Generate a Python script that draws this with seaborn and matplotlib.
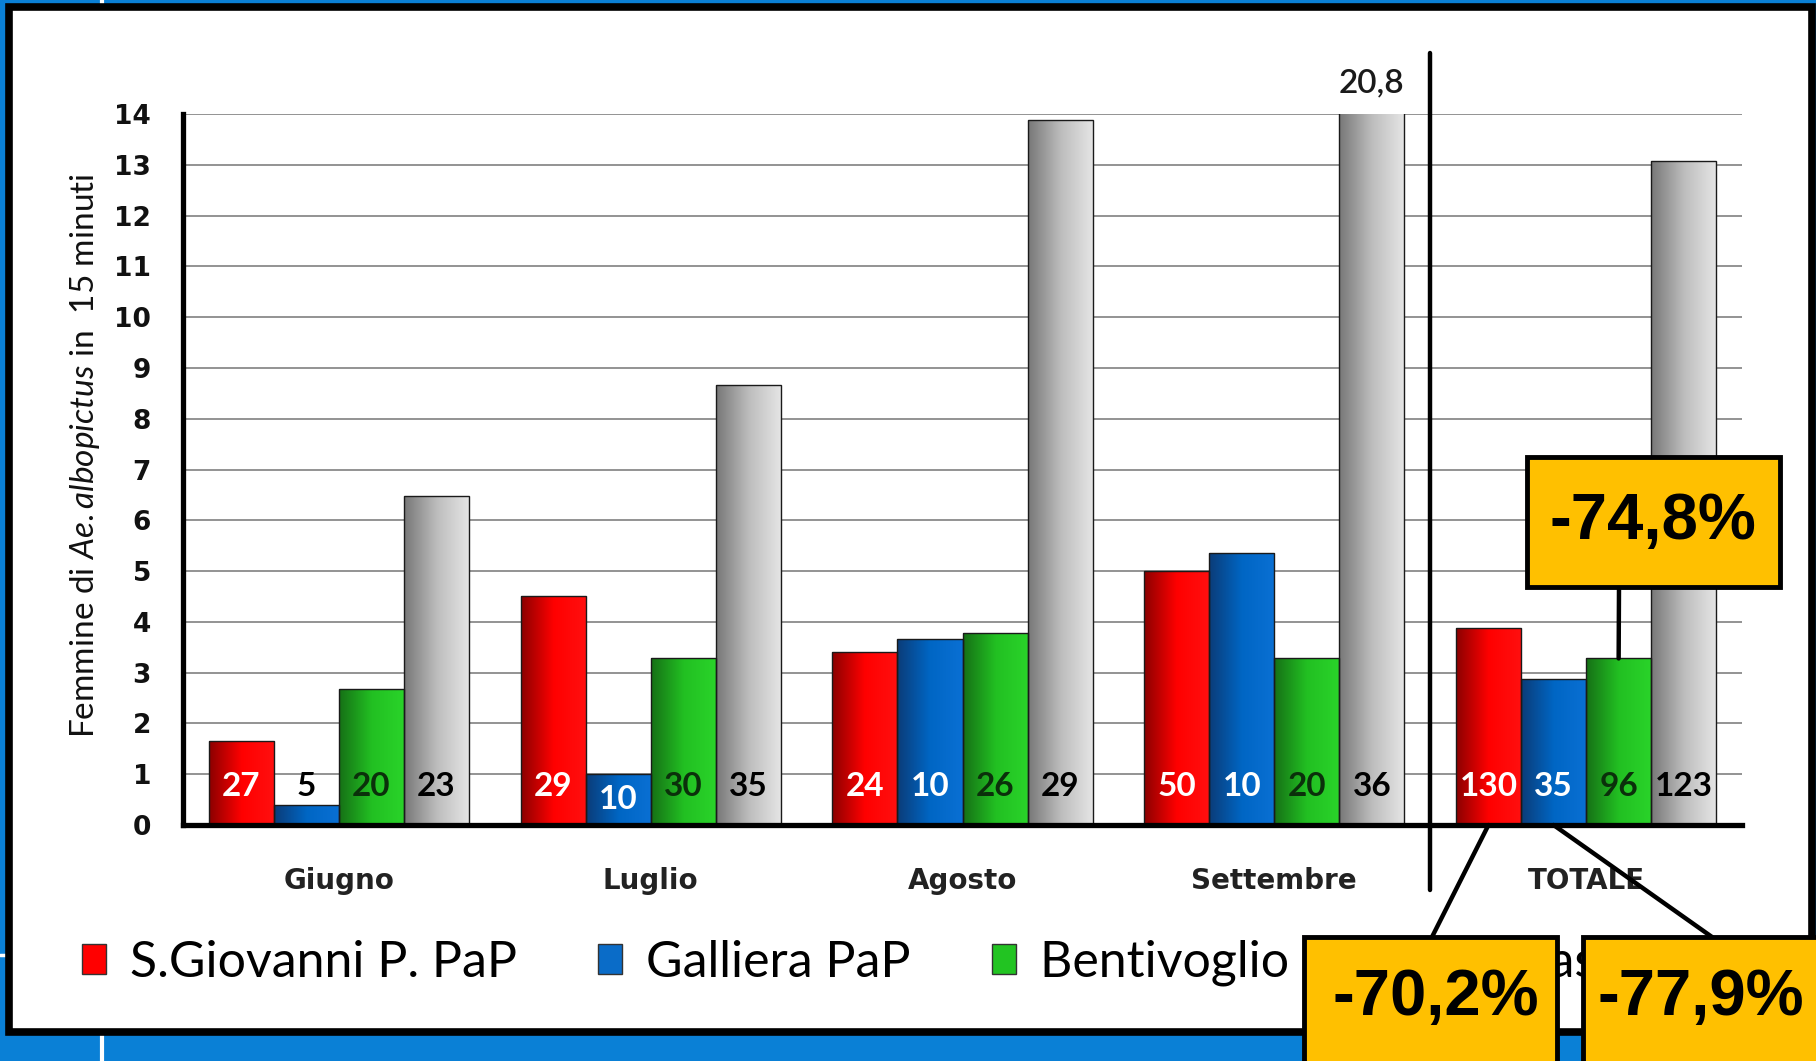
import numpy as np
import pandas as pd
import matplotlib
matplotlib.use('Agg')
import matplotlib.pyplot as plt
import seaborn as sns
from matplotlib.colors import LinearSegmentedColormap
from matplotlib.patches import Rectangle, Patch, ConnectionPatch
from matplotlib.lines import Line2D

# dati
mesi = ['Giugno', 'Luglio', 'Agosto', 'Settembre', 'TOTALE']
siti = ['S.Giovanni P. PaP', 'Galliera PaP', 'Bentivoglio PaP', "Castello d'Argile"]

# femmine medie di Ae. albopictus in 15 minuti
s_giovanni = [1.65, 4.5, 3.4, 5.0, 3.88]
galliera = [0.4, 1.0, 3.67, 5.35, 2.87]
bentivoglio = [2.68, 3.28, 3.78, 3.28, 3.28]
controllo = [6.47, 8.67, 13.88, 20.8, 13.08]

# numero di catture (etichette dentro le barre)
n_s_giovanni = [27, 29, 24, 50, 130]
n_galliera = [5, 10, 10, 10, 35]
n_bentivoglio = [20, 30, 26, 20, 96]
n_controllo = [23, 35, 29, 36, 123]

# riduzioni sul totale rispetto al controllo
riduzioni = ['-70,2%', '-77,9%', '-74,8%']

valori = [s_giovanni, galliera, bentivoglio, controllo]
conteggi = [n_s_giovanni, n_galliera, n_bentivoglio, n_controllo]

df = pd.DataFrame({
    'mese': mesi * len(siti),
    'sito': np.repeat(siti, len(mesi)),
    'valore': np.concatenate(valori),
})

# stile
sns.set_style('white')
plt.rcParams['font.family'] = ['DejaVu Sans']
plt.rcParams['text.color'] = 'black'
plt.rcParams['mathtext.fontset'] = 'custom'
plt.rcParams['mathtext.rm'] = 'Lato'
plt.rcParams['mathtext.it'] = 'Lato:italic'

colori = ['#ff0000', '#0a6cc8', '#22c422', '#b8b8b8']
cmaps = [
    LinearSegmentedColormap.from_list('r', ['#8b0000', '#ff0000', '#ff1010']),
    LinearSegmentedColormap.from_list('b', ['#0b3c78', '#0066c4', '#0a70d4']),
    LinearSegmentedColormap.from_list('g', ['#167016', '#22c022', '#2ad42a']),
    LinearSegmentedColormap.from_list('k', ['#777777', '#bdbdbd', '#e6e6e6']),
]
col_testo = ['white', 'white', '#0b300b', 'black']
lato = ['Lato', 'DejaVu Sans']

W, H = 1816, 1061
def fx(x):
    return x / W
def fy(y):
    return 1 - y / H

fig = plt.figure(figsize=(W / 100, H / 100), dpi=100, facecolor='#0a80d6')

# cornice della diapositiva
fig.add_artist(Line2D([fx(102), fx(102)], [0, 1], color='white', lw=3, zorder=-3))
fig.add_artist(Line2D([0, 1], [fy(955), fy(955)], color='white', lw=2.5, zorder=-3))
fig.add_artist(Rectangle((fx(8.5), fy(1032)), fx(1812) - fx(8.5), fy(6.5) - fy(1032),
                         transform=fig.transFigure, facecolor='white',
                         edgecolor='black', lw=5.5, zorder=-2))

ax = fig.add_axes([fx(183), fy(825), fx(1742) - fx(183), fy(114) - fy(825)])
ax.patch.set_alpha(0)

sns.barplot(data=df, x='mese', y='valore', hue='sito', palette=colori,
            width=0.835, gap=0, edgecolor='#1a1a1a', linewidth=1.0,
            legend=False, ax=ax)

# gradiente orizzontale dentro ogni barra
grad = np.linspace(0, 1, 256).reshape(1, -1)
for cont, cmap in zip(ax.containers, cmaps):
    for bar in cont:
        x, w, h = bar.get_x(), bar.get_width(), bar.get_height()
        im = ax.imshow(grad, extent=[x, x + w, 0, min(h, 14)], cmap=cmap,
                       aspect='auto', zorder=1.5, interpolation='bilinear')
        im.set_clip_path(bar)
        bar.set_facecolor('none')
        bar.set_zorder(1.6)

ax.set_xlim(-0.5, 4.5)
ax.set_ylim(0, 14)

# etichette con il numero di catture
for i, (cont, counts) in enumerate(zip(ax.containers, conteggi)):
    for bar, n in zip(cont, counts):
        cx = bar.get_x() + bar.get_width() / 2
        h = bar.get_height()
        c = col_testo[i] if h > 0.9 else 'black'
        ax.text(cx, min(0.75, h / 2) if h > 0.9 else 0.75, str(n), ha='center',
                va='center', color=c, fontsize=24, fontweight='bold',
                family=lato, zorder=3)
        if h > 14:
            ax.text(cx, 14.6, f'{h:.1f}'.replace('.', ','), ha='center',
                    va='center', fontsize=24, family=lato, fontweight='semibold',
                    color='#1a1a1a', clip_on=False)

# assi
ax.set_yticks(range(15))
ax.tick_params(axis='y', length=8, width=3, pad=15, labelsize=19, labelcolor='#111111')
for lab in ax.get_yticklabels():
    lab.set_fontweight('bold')
ax.set_xticks(range(5))
ax.set_xticklabels(mesi, fontweight='bold', fontsize=20, color='#222222')
ax.tick_params(axis='x', which='major', length=0, pad=30)
ax.set_xticks(np.arange(-0.5, 5, 1), minor=True)
ax.tick_params(axis='x', which='minor', length=12, width=3.5)
for s in ['top', 'right']:
    ax.spines[s].set_visible(False)
for s in ['left', 'bottom']:
    ax.spines[s].set_linewidth(3.8)
    ax.spines[s].set_color('black')
ax.yaxis.grid(True, color='#8a8a8a', lw=1.3)
ax.set_axisbelow(True)
ax.set_xlabel('')
ax.set_ylabel(r'Femmine di $\mathit{Ae.albopictus}$ in  15 minuti', fontsize=24,
              family=lato, color='#111111')
ax.yaxis.set_label_coords(-0.052, 0.52)

# separatore prima del totale
ax.plot([3.5, 3.5], [-0.092, 1.086], color='black', lw=3.2,
        transform=ax.get_xaxis_transform(), clip_on=False, zorder=4)

# legenda
handles = [Patch(facecolor=c, edgecolor='#333333', lw=1) for c in colori]
fig.legend(handles, siti, loc='center left', bbox_to_anchor=(fx(82), fy(963)),
           ncol=4, frameon=False, prop={'family': lato, 'size': 36},
           handlelength=0.48, handleheight=0.56, handletextpad=0.48,
           columnspacing=1.62, borderaxespad=0, borderpad=0)

# riquadri con le riduzioni percentuali
tot = 4
bar_r = ax.containers[0][tot]
bar_b = ax.containers[1][tot]
bar_g = ax.containers[2][tot]
riquadri = [
    # (x0, y0, x1, y1) in pixel, centro testo, attacco linea, barra, y barra
    ((1304, 937, 1557, 1075), (1436, 998), (1432, 937), bar_r, 0),
    ((1583, 937, 1840, 1075), (1701, 998), (1712, 937), bar_b, 0),
    ((1527, 457, 1780, 587), (1653, 522), (1619, 587), bar_g, bar_g.get_height()),
]
for testo, (box, tc, att, bar, yb) in zip(riduzioni, riquadri):
    x0, y0, x1, y1 = box
    cx = bar.get_x() + bar.get_width() / 2
    fig.add_artist(ConnectionPatch(xyA=(fx(att[0]), fy(att[1])), coordsA=fig.transFigure,
                                   xyB=(cx, yb), coordsB=ax.transData,
                                   color='black', lw=3.2, zorder=8))
    fig.add_artist(Rectangle((fx(x0), fy(y1)), fx(x1) - fx(x0), fy(y0) - fy(y1),
                             transform=fig.transFigure, facecolor='#ffc000',
                             edgecolor='black', lw=3.5, zorder=10))
    fig.text(fx(tc[0]), fy(tc[1]), testo, ha='center', va='center', fontsize=47,
             fontweight='bold', color='black',
             family=['Liberation Sans', 'DejaVu Sans'], zorder=11)

fig.savefig('out.png', dpi=100, facecolor=fig.get_facecolor())
